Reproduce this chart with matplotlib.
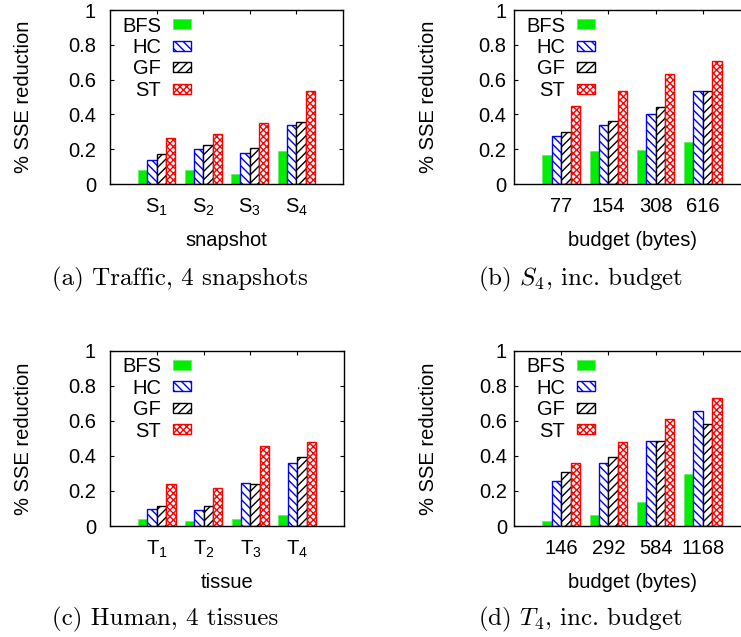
import matplotlib
matplotlib.use("Agg")
import matplotlib.pyplot as plt
import matplotlib.transforms as mtransforms
from matplotlib.patches import Rectangle
import numpy as np

# ---------------- data ----------------
series = ["BFS", "HC", "GF", "ST"]

cats_a = [r"$\mathrm{S}_{1}$", r"$\mathrm{S}_{2}$", r"$\mathrm{S}_{3}$", r"$\mathrm{S}_{4}$"]
bfs_a = [0.082, 0.078, 0.055, 0.187]
hc_a = [0.140, 0.203, 0.180, 0.337]
gf_a = [0.174, 0.222, 0.208, 0.354]
st_a = [0.264, 0.289, 0.352, 0.537]

cats_b = ["77", "154", "308", "616"]
bfs_b = [0.168, 0.187, 0.197, 0.243]
hc_b = [0.277, 0.337, 0.405, 0.535]
gf_b = [0.298, 0.363, 0.444, 0.535]
st_b = [0.446, 0.535, 0.633, 0.707]

cats_c = [r"$\mathrm{T}_{1}$", r"$\mathrm{T}_{2}$", r"$\mathrm{T}_{3}$", r"$\mathrm{T}_{4}$"]
bfs_c = [0.042, 0.030, 0.038, 0.061]
hc_c = [0.099, 0.093, 0.244, 0.362]
gf_c = [0.114, 0.116, 0.242, 0.392]
st_c = [0.238, 0.219, 0.459, 0.478]

cats_d = ["146", "292", "584", "1168"]
bfs_d = [0.030, 0.061, 0.139, 0.300]
hc_d = [0.259, 0.362, 0.488, 0.655]
gf_d = [0.309, 0.392, 0.486, 0.583]
st_d = [0.362, 0.478, 0.610, 0.730]

xlabels = ["snapshot", "budget (bytes)", "tissue", "budget (bytes)"]
ylabel = "% SSE reduction"
captions = ["(a) Traffic, 4 snapshots", r"(b) $S_4$, inc. budget",
            "(c) Human, 4 tissues", r"(d) $T_4$, inc. budget"]
yticks = [0, 0.2, 0.4, 0.6, 0.8, 1]
ytick_labels = ["0", "0.2", "0.4", "0.6", "0.8", "1"]

# ---------------- style ----------------
plt.rcParams["font.family"] = ["Liberation Sans", "DejaVu Sans"]
plt.rcParams["mathtext.fontset"] = "custom"
plt.rcParams["mathtext.rm"] = "Liberation Sans"
plt.rcParams["mathtext.it"] = "Liberation Sans:italic"
plt.rcParams["mathtext.bf"] = "Liberation Sans:bold"
plt.rcParams["hatch.linewidth"] = 1.0

styles = [
    dict(facecolor="#00ee00", edgecolor="#66ee66", hatch=None, linewidth=0.6),
    dict(facecolor="white", edgecolor="#0000ff", hatch="\\\\\\\\", linewidth=1.0),
    dict(facecolor="white", edgecolor="black", hatch="////", linewidth=1.0),
    dict(facecolor="white", edgecolor="#ff0000", hatch="xxxxx", linewidth=1.0),
]

FS = 14.5
W, H = 741, 637
fig = plt.figure(figsize=(W / 100, H / 100), dpi=100)

# axes boxes in pixels: left, top, right, bottom
boxes = [(110, 10, 343, 184), (514, 10, 750, 184),
         (110, 351, 344, 526), (514, 351, 750, 526)]
ytick_pads = [10, 5.5, 10, 5]
ylabel_x = [23, 428, 23, 428]
cap_pos = [(52, 285), (478, 285), (52, 625), (478, 625)]

data = [
    (cats_a, [bfs_a, hc_a, gf_a, st_a]),
    (cats_b, [bfs_b, hc_b, gf_b, st_b]),
    (cats_c, [bfs_c, hc_c, gf_c, st_c]),
    (cats_d, [bfs_d, hc_d, gf_d, st_d]),
]

bw = 0.2
offsets = [-0.3, -0.1, 0.1, 0.3]
rows = [14, 35.5, 57, 78.5]

for k, (cats, vals) in enumerate(data):
    l, t, r, b = boxes[k]
    ax = fig.add_axes([l / W, 1 - b / H, (r - l) / W, (b - t) / H])
    x = np.arange(len(cats))
    for i, v in enumerate(vals):
        ax.bar(x + offsets[i], v, width=bw, **styles[i], zorder=2)
    ax.set_xlim(-1, 4)
    ax.set_ylim(0, 1)
    ax.set_xticks(x)
    ax.set_xticklabels(cats, fontsize=FS)
    ax.set_yticks(yticks)
    ax.set_yticklabels(ytick_labels, fontsize=FS)
    ax.tick_params(axis="both", direction="in", length=3, width=0.8,
                   top=True, right=True)
    ax.tick_params(axis="y", pad=ytick_pads[k])
    ax.tick_params(axis="x", pad=9)
    for s in ax.spines.values():
        s.set_linewidth(1.0)
    ax.set_xlabel(xlabels[k], fontsize=FS, va="center")
    ax.xaxis.set_label_coords(0.5, -(240 - 184) / (b - t))
    ax.set_ylabel(ylabel, fontsize=FS, va="center", ha="center")
    ax.yaxis.set_label_coords(-(l - ylabel_x[k]) / (r - l), 0.5)

    # legend (gnuplot style: right-aligned text, sample box to the right)
    # coordinates in pixels relative to the axes' top-left corner
    px = mtransforms.Affine2D() + mtransforms.ScaledTranslation(0, 1, ax.transAxes)
    for i, name in enumerate(series):
        ax.text(51, -rows[i], name, transform=px, ha="right",
                va="center_baseline", fontsize=FS)
        ax.add_patch(Rectangle((63, -rows[i] - 5), 18, 10, transform=px,
                               clip_on=False, **styles[i]))
    # caption
    cx, cy = cap_pos[k]
    fig.text(cx / W, 1 - cy / H, captions[k], fontsize=18, family="cmr10",
             math_fontfamily="cm", ha="left", va="baseline")

fig.savefig("out.png", dpi=100)
